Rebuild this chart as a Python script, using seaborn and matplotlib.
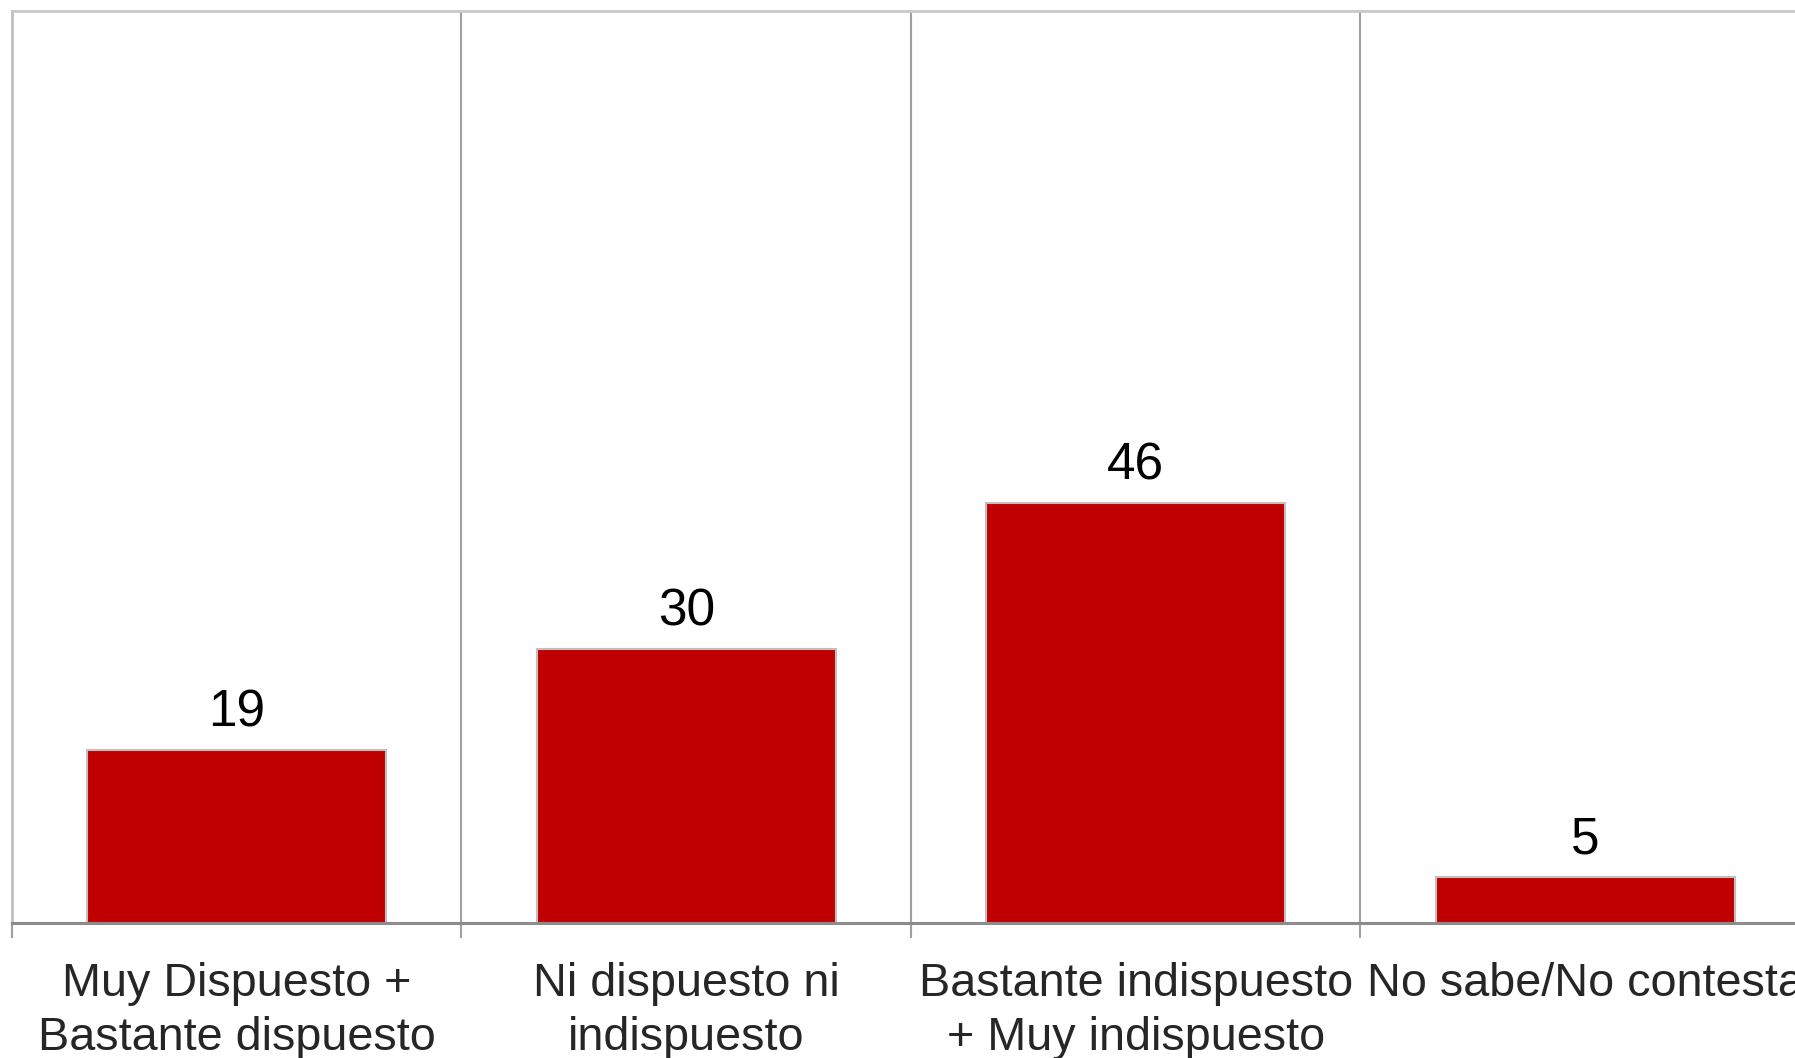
import matplotlib
matplotlib.use("Agg")
import matplotlib.pyplot as plt
import seaborn as sns
import pandas as pd

# Data
categories = [
    "Muy Dispuesto +\nBastante dispuesto",
    "Ni dispuesto ni\nindispuesto",
    "Bastante indispuesto\n+ Muy indispuesto",
    "No sabe/No contesta",
]
values = [19, 30, 46, 5]

df = pd.DataFrame({"categoria": categories, "valor": values})

sns.set_style("white")
plt.rcParams["font.family"] = ["Liberation Sans", "DejaVu Sans"]

fig = plt.figure(figsize=(17.95, 10.58), dpi=100)
# plot area runs past the right edge, like the cropped original
ax = fig.add_axes([12 / 1795, 1 - 923 / 1058, 1798 / 1795, 912 / 1058])

sns.barplot(data=df, x="categoria", y="valor", color="#C00000",
            edgecolor="#c0c0c0", linewidth=1.5, width=0.665,
            saturation=1, ax=ax)

ax.set_ylim(0, 100)
ax.set_xlim(-0.5, 3.5)
ax.set_xlabel("")
ax.set_ylabel("")
ax.set_yticks([])

# category separators
ax.set_xticks([-0.5, 0.5, 1.5, 2.5, 3.5], minor=True)
ax.grid(True, which="minor", axis="x", color="#a0a0a0", linewidth=1.5)
ax.grid(False, which="major")
ax.tick_params(axis="x", which="major", length=0, labelsize=33.7, pad=28)
ax.tick_params(axis="x", which="minor", length=11, width=1.5,
               color="#a0a0a0", bottom=True)
for lbl in ax.get_xticklabels():
    lbl.set_linespacing(1.31)

ax.spines["bottom"].set_color("#8c8c8c")
ax.spines["bottom"].set_linewidth(2.2)
ax.spines["left"].set_color("#c0c0c0")
ax.spines["left"].set_linewidth(2)
ax.spines["top"].set_color("#c8c8c8")
ax.spines["top"].set_linewidth(2)
ax.spines["right"].set_visible(False)

ax.bar_label(ax.containers[0], labels=[str(v) for v in values],
             fontsize=37, padding=9, color="black")

fig.savefig("out.png", dpi=100)
